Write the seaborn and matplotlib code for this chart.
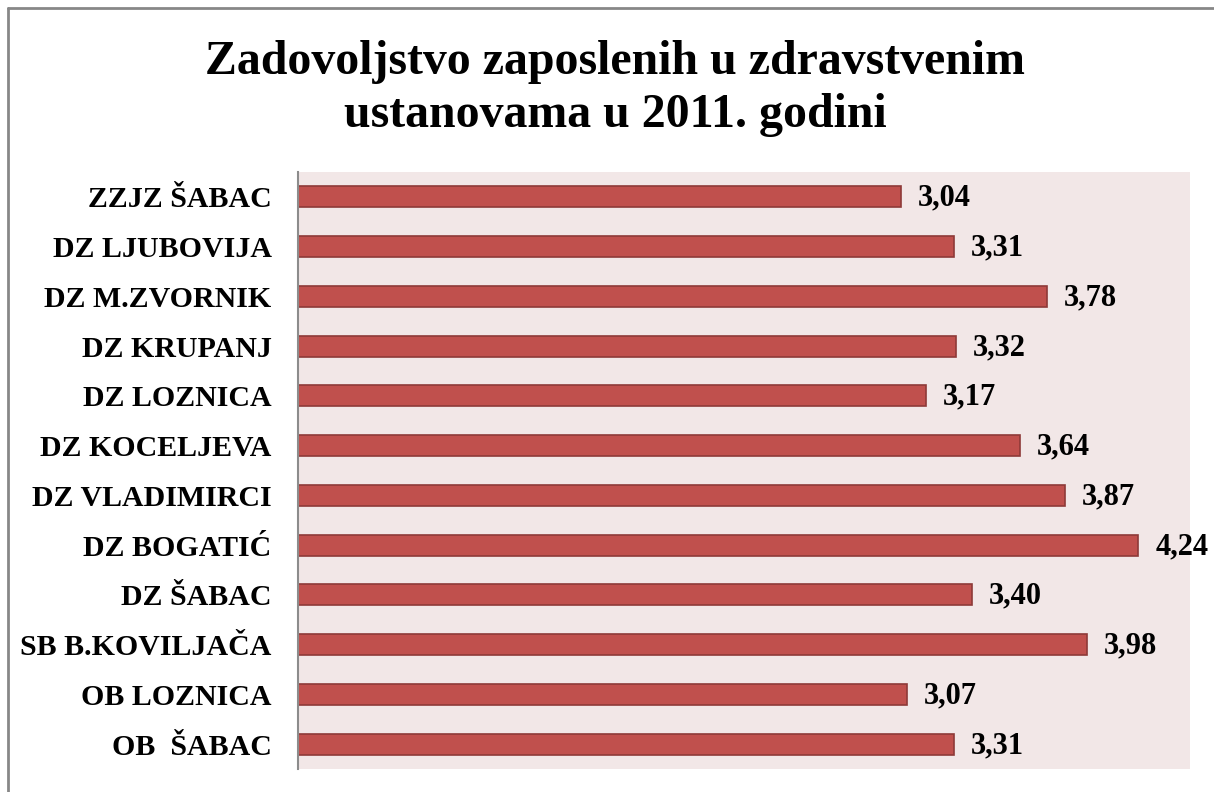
import matplotlib
matplotlib.use('Agg')
import matplotlib.pyplot as plt
import seaborn as sns
import pandas as pd
from matplotlib.lines import Line2D

# Data (top to bottom as shown)
institutions = ['ZZJZ ŠABAC', 'DZ LJUBOVIJA', 'DZ M.ZVORNIK', 'DZ KRUPANJ', 'DZ LOZNICA',
                'DZ KOCELJEVA', 'DZ VLADIMIRCI', 'DZ BOGATIĆ', 'DZ ŠABAC',
                'SB B.KOVILJAČA', 'OB LOZNICA', 'OB  ŠABAC']
scores = [3.04, 3.31, 3.78, 3.32, 3.17, 3.64, 3.87, 4.24, 3.40, 3.98, 3.07, 3.31]

df = pd.DataFrame({'ustanova': institutions, 'ocena': scores})

sns.set_style('white')
plt.rcParams['font.family'] = ['Liberation Serif', 'DejaVu Serif']
plt.rcParams['text.color'] = 'black'
plt.rcParams['ytick.color'] = 'black'
plt.rcParams['ytick.labelcolor'] = 'black'

fig = plt.figure(figsize=(12.14, 7.92), dpi=100)
ax = fig.add_axes([298 / 1214, 1 - 769 / 792, (1190 - 298) / 1214, (769 - 172) / 792])
ax.set_facecolor('#F2E7E7')

sns.barplot(data=df, x='ocena', y='ustanova', order=institutions, orient='h',
            color='#C0504D', saturation=1, width=0.42,
            edgecolor='#8E3A38', linewidth=1.2, ax=ax)

ax.set_xlim(0, 4.5)
ax.set_ylim(len(institutions) - 0.5, -0.5)
ax.set_xlabel('')
ax.set_ylabel('')
ax.set_xticks([])
ax.tick_params(axis='y', length=0, pad=19)
for lbl in ax.get_yticklabels():
    lbl.set_fontsize(21.5)
    lbl.set_fontweight('bold')
    lbl.set_color('black')

for i, v in enumerate(scores):
    ax.text(v + 0.085, i + 0.03, f'{v:.2f}'.replace('.', ','), va='center', ha='left',
            fontsize=22, fontweight='bold', color='black')

for side in ['top', 'right', 'bottom']:
    ax.spines[side].set_visible(False)
ax.spines['left'].set_color('#8C8C8C')
ax.spines['left'].set_linewidth(1.5)

fig.text(0.507, 0.888, 'Zadovoljstvo zaposlenih u zdravstvenim\nustanovama u 2011. godini',
         ha='center', va='center', fontsize=34.5, fontweight='bold', linespacing=1.26,
         color='black')

# outer chart border (partly cropped at right and bottom)
x0, y0 = 8 / 1214, 1 - 8 / 792
fig.add_artist(Line2D([x0, x0], [y0, 0], color='#878787', lw=2, transform=fig.transFigure))
fig.add_artist(Line2D([x0, 1], [y0, y0], color='#878787', lw=2, transform=fig.transFigure))

fig.savefig('out.png', dpi=100)
